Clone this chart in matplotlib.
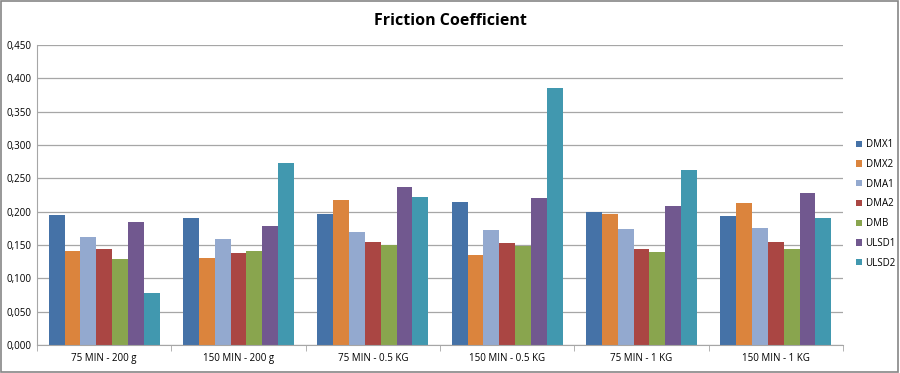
import matplotlib.pyplot as plt
import numpy as np
from matplotlib.ticker import FuncFormatter, FixedLocator

categories = ["75 MIN - 200 g", "150 MIN - 200 g", "75 MIN - 0.5 KG",
              "150 MIN - 0.5 KG", "75 MIN - 1 KG", "150 MIN - 1 KG"]
series = ["DMX1", "DMX2", "DMA1", "DMA2", "DMB", "ULSD1", "ULSD2"]

dmx1 = [0.195, 0.190, 0.196, 0.214, 0.199, 0.1935]
dmx2 = [0.141, 0.1305, 0.2175, 0.135, 0.196, 0.2135]
dma1 = [0.162, 0.159, 0.169, 0.172, 0.1735, 0.176]
dma2 = [0.144, 0.138, 0.1545, 0.153, 0.1445, 0.154]
dmb = [0.1295, 0.141, 0.150, 0.149, 0.140, 0.1445]
ulsd1 = [0.1845, 0.178, 0.2375, 0.220, 0.209, 0.228]
ulsd2 = [0.078, 0.273, 0.222, 0.386, 0.2625, 0.190]

values = [dmx1, dmx2, dma1, dma2, dmb, ulsd1, ulsd2]
colors = ["#4572A7", "#DB843D", "#93A9CF", "#AA4643", "#89A54E", "#71588F", "#4198AF"]

plt.rcParams['font.family'] = ['Open Sans', 'DejaVu Sans']

fig = plt.figure(figsize=(9, 3.73), dpi=100)
ax = fig.add_axes([0.0411, 0.0751, 0.8956, 0.8043])

x = np.arange(len(categories))
group_w = 0.826
bw = group_w / len(series)
for i, (name, vals, c) in enumerate(zip(series, values, colors)):
    ax.bar(x - group_w / 2 + bw * (i + 0.5), vals, bw, color=c, label=name, zorder=2)

ax.set_xlim(-0.5, len(categories) - 0.5)
ax.set_ylim(0, 0.45)
ax.set_yticks(np.arange(0, 0.451, 0.05))
ax.yaxis.set_major_formatter(FuncFormatter(lambda v, p: f"{v:.3f}".replace(".", ",")))
ax.yaxis.grid(True, color="#A6A6A6", linewidth=0.9, zorder=0)
ax.set_xticks(x)
ax.set_xticklabels(categories)
ax.xaxis.set_minor_locator(FixedLocator(np.arange(-0.5, len(categories), 1)))
ax.tick_params(axis="x", which="major", length=0, labelsize=7, pad=6)
ax.tick_params(axis="x", which="minor", length=4, color="#A6A6A6", direction="out")
ax.tick_params(axis="y", length=0, labelsize=7, pad=4)
for s in ["top", "right"]:
    ax.spines[s].set_visible(False)
for s in ["left", "bottom"]:
    ax.spines[s].set_color("#A6A6A6")

fig.text(0.5, 0.945, "Friction Coefficient", ha="center", va="center",
         fontsize=11.5, fontweight="bold")

ax.legend(loc="center left", bbox_to_anchor=(1.005, 0.47), frameon=False,
          fontsize=7, handlelength=0.6, handleheight=0.6, handletextpad=0.4,
          labelspacing=0.9)

fig.patches.append(plt.Rectangle((0.001, 0.002), 0.997, 0.995, transform=fig.transFigure,
                                 fill=False, edgecolor="#868686", linewidth=1.2))

fig.savefig("out.png")
